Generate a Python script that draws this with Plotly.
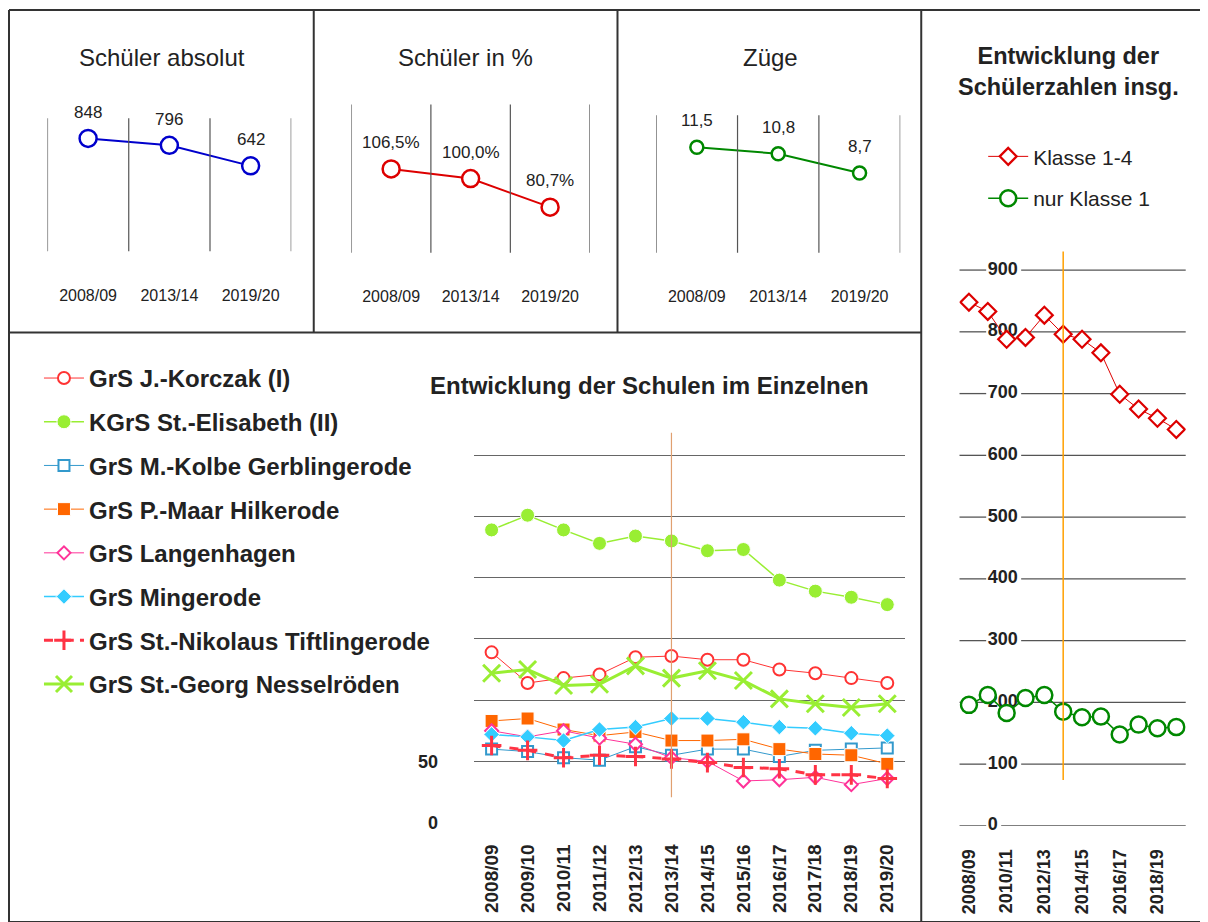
import plotly.graph_objects as go

# The page body keeps its default 8px margin, so the figure is drawn 8px in
# from the top-left corner.  The capture is squeezed vertically by ~922/933,
# so the vertical layout is laid out on a 933px-tall canvas.
OFF = 8
SY = 933 / 922
W, H = 1200, 925
FONT = "Liberation Sans, Arial, sans-serif"

# ---------------- data ----------------
years = ["2008/09", "2009/10", "2010/11", "2011/12", "2012/13", "2013/14",
         "2014/15", "2015/16", "2016/17", "2017/18", "2018/19", "2019/20"]

korczak = [139, 114, 118, 121, 135, 136, 133, 133, 125, 122, 118, 114]
elisabeth = [239, 251, 239, 228, 234, 230, 222, 223, 198, 189, 184, 178]
kolbe = [60, 58, 53, 51, 62, 55, 60, 60, 54, 59, 60, 61]
maar = [83, 85, 76, 71, 74, 67, 67, 68, 60, 56, 55, 48]
langenhagen = [75, 70, 75, 69, 64, 53, 50, 34, 35, 37, 31, 36]
mingerode = [72, 70, 67, 76, 78, 85, 85, 82, 78, 77, 73, 71]
tiftlingerode = [63, 59, 53, 55, 54, 52, 49, 45, 44, 39, 39, 36]
nesselroeden = [122, 125, 112, 113, 128, 118, 124, 116, 101, 97, 94, 97]

klasse_1_4 = [848, 833, 788, 791, 827, 796, 788, 766, 699, 675, 660, 642]
nur_klasse_1 = [196, 212, 183, 207, 212, 185, 176, 177, 148, 164, 158, 160]

years3 = ["2008/09", "2013/14", "2019/20"]
schueler_abs = [848, 796, 642]
schueler_pct = [106.5, 100.0, 80.7]
zuege = [11.5, 10.8, 8.7]

ref_year = "2013/14"

main_yticks = [0, 50, 100, 150, 200, 250, 300]
main_yticktext = ["0", "50", "", "", "", "", ""]
right_yticks = [0, 100, 200, 300, 400, 500, 600, 700, 800, 900]
right_xticks = years[::2]
right_label_col = years[1]   # right-panel value labels sit at this column


def fx(p):
    return (p - OFF) / W


def fy(p):
    return 1 - (p * SY - OFF) / H


def vy(px):
    return round(px * SY, 1)


def de(v, dec=1):
    return f"{v:.{dec}f}".replace(".", ",")


fig = go.Figure()

# ---------------- top panels ----------------
panels = [
    dict(title="Schüler absolut", vals=schueler_abs,
         labels=[f"{v:d}" for v in schueler_abs], color="#0000CC", msize=17,
         xd=(46.5, 290.5), yd=(118, 251), yr=(0, 1000), tx=161),
    dict(title="Schüler in %", vals=schueler_pct,
         labels=[de(v) + "%" for v in schueler_pct], color="#DD0000", msize=17,
         xd=(350.7, 589.3), yd=(104.3, 252.3), yr=(50, 150), tx=465),
    dict(title="Züge", vals=zuege,
         labels=[de(v) for v in zuege], color="#008800", msize=13,
         xd=(655.7, 900), yd=(115, 252.3), yr=(0, 15), tx=770),
]

layout_axes = {}
annotations = []
shapes = []

for i, p in enumerate(panels, start=1):
    xa = "x" if i == 1 else f"x{i}"
    ya = "y" if i == 1 else f"y{i}"
    fig.add_trace(go.Scatter(
        x=years3, y=p["vals"], xaxis=xa, yaxis=ya, mode="lines+markers",
        line=dict(color=p["color"], width=2),
        marker=dict(symbol="circle", size=p["msize"], color="white",
                    line=dict(color=p["color"], width=2.5)),
        showlegend=False, hoverinfo="skip"))
    layout_axes[f"xaxis{i}"] = dict(
        domain=[fx(p["xd"][0]), fx(p["xd"][1])], anchor=ya, type="category",
        range=[-0.5, len(years3) - 0.5], showgrid=False, zeroline=False,
        showline=False, ticks="outside", ticklen=vy(29),
        tickcolor="rgba(0,0,0,0)", tickfont=dict(size=16, color="#222"))
    layout_axes[f"yaxis{i}"] = dict(
        domain=[fy(p["yd"][1]), fy(p["yd"][0])], anchor=xa,
        range=list(p["yr"]), visible=False)
    for k in range(len(years3) + 1):
        shapes.append(dict(type="line", xref=xa, yref=f"{ya} domain",
                           x0=k - 0.5, x1=k - 0.5, y0=0, y1=1,
                           line=dict(color="#555", width=1.2)))
    for c, v, t in zip(years3, p["vals"], p["labels"]):
        annotations.append(dict(x=c, y=v, xref=xa, yref=ya, text=t,
                                showarrow=False, yshift=vy(26), xanchor="center",
                                font=dict(size=17, color="#222")))
    annotations.append(dict(x=fx(p["tx"]), y=fy(57), xref="paper",
                            yref="paper", text=p["title"], showarrow=False,
                            xanchor="center", yanchor="middle",
                            font=dict(size=24, color="#222")))

# ---------------- main chart ----------------
series = [
    ("GrS J.-Korczak (I)", korczak, "#FF3333", "circle", 12, "white", 2, 1, "solid"),
    ("KGrS St.-Elisabeth (II)", elisabeth, "#99EE33", "circle", 14, "#99EE33", 1, 1.5, "solid"),
    ("GrS M.-Kolbe Gerblingerode", kolbe, "#3399CC", "square", 11, "white", 2, 1, "solid"),
    ("GrS P.-Maar Hilkerode", maar, "#FF6600", "square", 13, "#FF6600", 1, 1, "solid"),
    ("GrS Langenhagen", langenhagen, "#FF3399", "diamond", 10, "white", 2, 1, "solid"),
    ("GrS Mingerode", mingerode, "#33CCFF", "diamond", 12, "#33CCFF", 1, 1.5, "solid"),
    ("GrS St.-Nikolaus Tiftlingerode", tiftlingerode, "#FF3344", "cross-thin", 14, "#FF3344", 3, 3, "dash"),
    ("GrS St.-Georg Nesselröden", nesselroeden, "#99EE33", "x-thin", 17, "#99EE33", 3, 3, "solid"),
]

for n, (name, vals, col, sym, size, fill, mlw, lw, dash) in enumerate(series):
    thin = sym.endswith("-thin")
    fig.add_trace(go.Scatter(
        x=years, y=vals, name=name, xaxis="x4", yaxis="y4",
        mode="lines+markers", legendgroup=f"g{n}", legend="legend",
        line=dict(color=col, width=lw, dash=dash),
        marker=dict(symbol=sym, size=size, color=fill,
                    line=dict(color=(col if (thin or fill == "white") else "white"),
                              width=mlw)),
        hoverinfo="skip"))

layout_axes["xaxis4"] = dict(
    domain=[fx(473), fx(905)], anchor="y4", type="category",
    range=[-0.5, len(years) - 0.5], showgrid=False, zeroline=False,
    showline=False, tickangle=-90, ticks="outside", ticklen=vy(13),
    tickcolor="rgba(0,0,0,0)",
    tickfont=dict(size=19, color="#222", weight="bold"))
layout_axes["yaxis4"] = dict(
    domain=[fy(821.7), fy(430.2)], anchor="x4", range=[0, 320],
    tickvals=main_yticks, ticktext=main_yticktext, showgrid=True,
    gridcolor="#666", gridwidth=1.3, zeroline=False, showline=False,
    ticks="outside", ticklen=31, tickcolor="rgba(0,0,0,0)",
    tickfont=dict(size=18, color="#222", weight="bold"))

ref_idx = years.index(ref_year)
shapes.append(dict(type="line", xref="x4", yref="y4 domain", x0=ref_idx,
                   x1=ref_idx, y0=0.065, y1=0.995,
                   line=dict(color="#E0A070", width=1.2)))

annotations.append(dict(x=fx(649), y=fy(385), xref="paper", yref="paper",
                        text="Entwicklung der Schulen im Einzelnen",
                        showarrow=False, xanchor="center", yanchor="middle",
                        font=dict(size=24, color="#222", weight="bold")))

# ---------------- right chart ----------------
R_X0, R_W = 959.3, 226.4

# axis value labels, drawn first so that the data markers lie on top of them
fig.add_trace(go.Scatter(
    x=[right_label_col] * len(right_yticks), y=right_yticks,
    text=[str(v) for v in right_yticks], mode="text",
    textposition="middle right", xaxis="x5", yaxis="y5",
    textfont=dict(size=18, color="#222", weight="bold", family=FONT),
    showlegend=False, hoverinfo="skip", cliponaxis=False))

fig.add_trace(go.Scatter(
    x=years, y=klasse_1_4, name="Klasse 1-4", xaxis="x5", yaxis="y5",
    mode="lines+markers", legend="legend2", legendgroup="r1",
    line=dict(color="#DD0000", width=1),
    marker=dict(symbol="diamond", size=13, color="white",
                line=dict(color="#DD0000", width=2.2)),
    hoverinfo="skip"))
fig.add_trace(go.Scatter(
    x=years, y=nur_klasse_1, name="nur Klasse 1", xaxis="x5", yaxis="y5",
    mode="lines+markers", legend="legend2", legendgroup="r2",
    line=dict(color="#008800", width=1.5),
    marker=dict(symbol="circle", size=16, color="white",
                line=dict(color="#008800", width=2.5)),
    hoverinfo="skip"))

layout_axes["xaxis5"] = dict(
    domain=[fx(R_X0), fx(R_X0 + R_W)], anchor="y5", type="category",
    categoryorder="array", categoryarray=years,
    range=[-0.5, len(years) - 0.5], showgrid=False, zeroline=False,
    showline=False, tickangle=-90, tickmode="array", tickvals=right_xticks,
    ticktext=right_xticks, ticks="outside", ticklen=vy(15),
    tickcolor="rgba(0,0,0,0)",
    tickfont=dict(size=18, color="#222", weight="bold"))
layout_axes["yaxis5"] = dict(
    domain=[fy(825), fy(251.2)], anchor="x5", range=[0, 930],
    tickvals=right_yticks, showgrid=False, showticklabels=False,
    zeroline=False, showline=False, ticks="")

# right gridlines, interrupted where the value labels sit
for v in right_yticks:
    wpx = len(str(v)) * 10.0
    gap_l = (986 - R_X0) / R_W
    gap_r = (988 + wpx + 3 - R_X0) / R_W
    for a, b in ((0, gap_l), (gap_r, 1)):
        shapes.append(dict(type="line", xref="x5 domain", yref="y5",
                           x0=a, x1=b, y0=v, y1=v, layer="below",
                           line=dict(color="#555", width=1.3)))

shapes.append(dict(type="line", xref="x5", yref="y5 domain", x0=ref_idx,
                   x1=ref_idx, y0=0.08, y1=1.0,
                   line=dict(color="#FFA000", width=1.5)))

annotations.append(dict(x=fx(1068), y=fy(71), xref="paper", yref="paper",
                        text="Entwicklung der<br>Schülerzahlen insg.",
                        showarrow=False, align="center", xanchor="center",
                        yanchor="middle",
                        font=dict(size=23.5, color="#222", weight="bold")))

# ---------------- frames ----------------
frame = dict(color="#333", width=2)
for x0, y0, x1, y1 in [(8, 10, 1208, 10), (8, 10, 8, 921), (8, 921, 1208, 921),
                       (313, 10, 313, 332), (617, 10, 617, 332),
                       (921, 10, 921, 921), (8, 332, 921, 332)]:
    shapes.append(dict(type="line", xref="paper", yref="paper",
                       x0=fx(x0), x1=fx(x1), y0=fy(y0), y1=fy(y1), line=frame))

fig.update_layout(
    width=W, height=H, autosize=False, margin=dict(l=0, r=0, t=0, b=0),
    paper_bgcolor="white", plot_bgcolor="white",
    font=dict(family=FONT, color="#222"),
    hovermode=False,
    shapes=shapes, annotations=annotations,
    legend=dict(x=fx(38), y=fy(355.5), xanchor="left", yanchor="top",
                traceorder="grouped", tracegroupgap=9.5, itemwidth=40,
                bgcolor="rgba(0,0,0,0)",
                font=dict(size=24, color="#222", weight="bold")),
    legend2=dict(x=fx(983), y=fy(136), xanchor="left", yanchor="top",
                 traceorder="grouped", tracegroupgap=11.5, itemwidth=40,
                 bgcolor="rgba(0,0,0,0)",
                 font=dict(size=21, color="#222")),
    **layout_axes,
)

fig.write_html("out.html", config={"displayModeBar": False, "responsive": False})
